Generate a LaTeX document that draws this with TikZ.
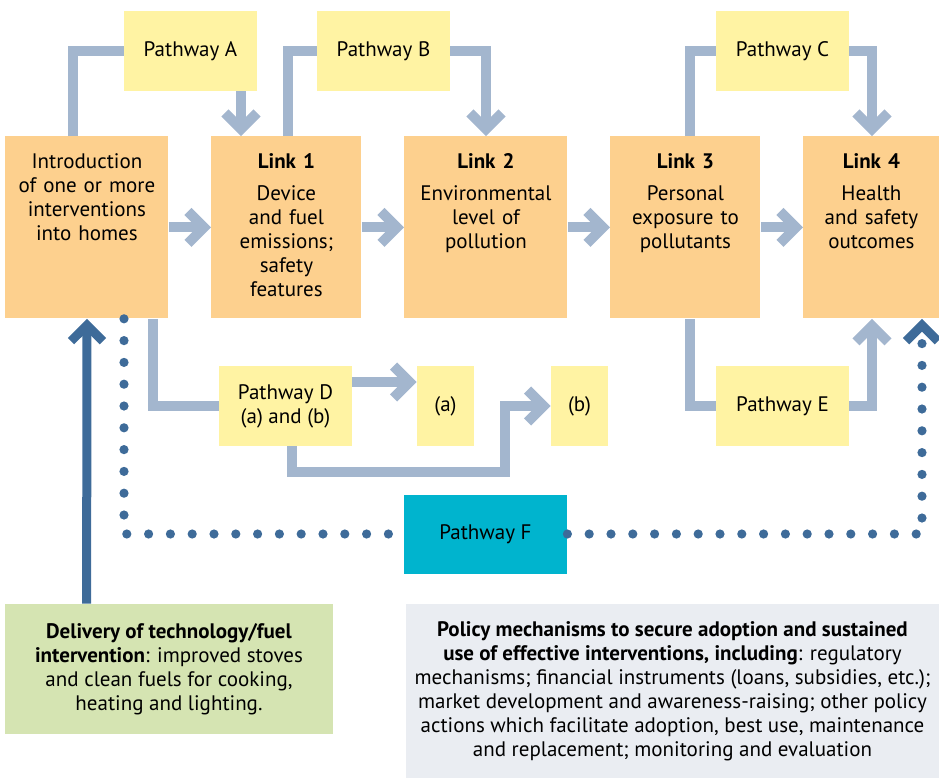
\documentclass[tikz,border=0pt]{standalone}
\usepackage{fontspec}
\setmainfont{PT Sans}
\usetikzlibrary{arrows.meta}

\definecolor{linkOrange}{HTML}{FDD08E}
\definecolor{pathYellow}{HTML}{FFF3A3}
\definecolor{flowBlue}{HTML}{A3B6CE}
\definecolor{darkBlue}{HTML}{3E6B99}
\definecolor{pathCyan}{HTML}{00B4CE}
\definecolor{deliveryGreen}{HTML}{D5E4B2}
\definecolor{policyGrey}{HTML}{EAEDF2}

\begin{document}
\begin{tikzpicture}[x=0.5pt,y=-0.5pt,font=\fontsize{10.5}{12}\selectfont]

\useasboundingbox (0,0) rectangle (939,778);

\tikzstyle{linkBox}=[fill=linkOrange,inner sep=0pt,align=center,anchor=north west,text height=16pt,text depth=75pt]
\tikzstyle{pathBox}=[fill=pathYellow,inner sep=0pt,minimum width=66.5pt,minimum height=40pt,align=center]
\tikzstyle{smallBox}=[pathBox,minimum width=28.5pt]
\tikzstyle{flowLine}=[draw=flowBlue,line width=5pt]
\tikzstyle{flow}=[flowLine,-{Straight Barb[length=8pt,width=16pt]}]
\tikzstyle{darkFlow}=[draw=darkBlue,line width=4.5pt,-{Straight Barb[length=8pt,width=16pt]}]
\tikzstyle{dotLine}=[draw=darkBlue,line width=4.6pt,line cap=round,dash pattern=on 0pt off 10.9pt]

%Links
\node[linkBox,text width=81.5pt] (intro) at (5,136) {Introduction\\of one or more\\interventions\\into homes};
\node[linkBox,text width=75pt] (link1) at (211,136) {\textbf{Link 1}\\[4pt]Device\\and fuel\\emissions;\\safety\\features};
\node[linkBox,text width=81.5pt] (link2) at (404,136) {\textbf{Link 2}\\[4pt]Environmental\\level of\\pollution};
\node[linkBox,text width=75pt] (link3) at (610,136) {\textbf{Link 3}\\[4pt]Personal\\exposure to\\pollutants};
\node[linkBox,text width=68pt] (link4) at (803,136) {\textbf{Link 4}\\[4pt]Health\\and safety\\outcomes};

%Pathways
\node[pathBox] (pathwayA) at (190.5,51) {Pathway A};
\node[pathBox] (pathwayB) at (383.5,51) {Pathway B};
\node[pathBox] (pathwayC) at (782.5,51) {Pathway C};
\node[pathBox] (pathwayD) at (285.5,406) {Pathway D\\(a) and (b)};
\node[smallBox] (boxA) at (445.5,406) {(a)};
\node[smallBox] (boxB) at (579.5,406) {(b)};
\node[pathBox] (pathwayE) at (782.5,406) {Pathway E};
\node[pathBox,fill=pathCyan,minimum width=81.5pt,minimum height=39.5pt] (pathwayF) at (485.5,534) {Pathway F};

\node[fill=deliveryGreen,inner sep=0pt,minimum width=164pt,minimum height=65pt,align=center] (delivery) at (169,669)
  {\textbf{Delivery of technology/fuel}\\\textbf{intervention}: improved stoves\\and clean fuels for cooking,\\heating and lighting.};
\node[fill=policyGrey,inner sep=0pt,minimum width=266.5pt,minimum height=87pt,align=center] (policy) at (672.5,691)
  {\textbf{Policy mechanisms to secure adoption and sustained}\\\textbf{use of effective interventions, including}: regulatory\\mechanisms; financial instruments (loans, subsidies, etc.);\\market development and awareness-raising; other policy\\actions which facilitate adoption, best use, maintenance\\and replacement; monitoring and evaluation};

%main chain
\draw[flow] (intro) -- (link1);
\draw[flow] (link1) -- (link2);
\draw[flow] (link2) -- (link3);
\draw[flow] (link3) -- (link4);

%pathways over the top
\draw[flowLine] ([xshift=34pt]intro.north west) |- (pathwayA.west);
\draw[flow] ([xshift=25.25pt]pathwayA.south) -- ([xshift=25.25pt]pathwayA.south |- link1.north);
\draw[flowLine] ([xshift=38.5pt]link1.north west) |- (pathwayB.west);
\draw[flow] (pathwayB.east) -| ([xshift=41pt]link2.north west);
\draw[flowLine] ([xshift=40pt]link3.north west) |- (pathwayC.west);
\draw[flow] (pathwayC.east) -| ([xshift=34.5pt]link4.north west);

%pathways underneath
\draw[flowLine] ([xshift=74pt]intro.south west) |- (pathwayD.west);
\draw[flow] ([yshift=12pt]pathwayD.east) -- ([yshift=12pt]pathwayD.east -| boxA.west);
\draw[flow] ([xshift=3.25pt]pathwayD.south) -- ++(0,26) -| ([xshift=-23pt]boxB.west) -- (boxB.west);
\draw[flowLine] ([xshift=40pt]link3.south west) |- (pathwayE.west);
\draw[flow] (pathwayE.east) -| ([xshift=34.5pt]link4.south west);

%pathway F and delivery
\draw[dotLine] ([xshift=59.5pt]intro.south west) |- (pathwayF.west);
\draw[dotLine,-{Straight Barb[length=8pt,width=16pt,line width=4.5pt]}] (pathwayF.east) -| ([xshift=59.5pt]link4.south west);
\draw[darkFlow] ([xshift=41pt]delivery.north west) -- ([xshift=41pt]intro.south west);

\end{tikzpicture}
\end{document}
